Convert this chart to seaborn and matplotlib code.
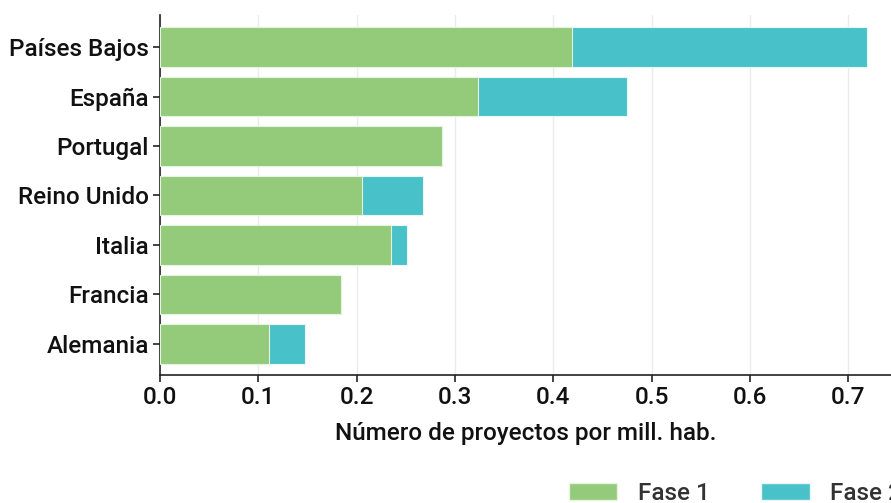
import matplotlib
matplotlib.use("Agg")
import matplotlib.pyplot as plt
import seaborn as sns
import pandas as pd
from matplotlib.patches import Patch

countries = ["Países Bajos", "España", "Portugal", "Reino Unido", "Italia", "Francia", "Alemania"]
fase1 = [0.419, 0.324, 0.2865, 0.205, 0.235, 0.184, 0.111]
fase2 = [0.300, 0.151, 0.0, 0.063, 0.016, 0.0, 0.036]
series_names = ["Fase 1", "Fase 2"]
xticks = [0.0, 0.1, 0.2, 0.3, 0.4, 0.5, 0.6, 0.7]

green = "#93CB7A"
teal = "#49C1C8"

sns.set_theme(style="white")
plt.rcParams["font.family"] = ["Roboto", "DejaVu Sans"]

df = pd.DataFrame({"pais": countries, "f1": fase1, "f2": fase2})
df["total"] = df["f1"] + df["f2"]

fig = plt.figure(figsize=(8.91, 5.03), dpi=100)
ax = fig.add_axes([160/891, 1-375/503, (891-160)/891, (375-15)/503])

sns.barplot(data=df, y="pais", x="total", color=teal, orient="h", ax=ax,
            width=0.8, edgecolor="#e8f6f7", linewidth=0.8, saturation=1, zorder=2)
sns.barplot(data=df, y="pais", x="f1", color=green, orient="h", ax=ax,
            width=0.8, edgecolor="#e6f3e0", linewidth=0.8, saturation=1, zorder=3)

ax.set_xlim(0, (891-160)/983)
ax.set_ylim(6.63, -0.65)
ax.set_xticks(xticks)
ax.set_xticklabels([f"{t:.1f}" for t in xticks])
ax.grid(axis="x", color="#ebebeb", linewidth=1, zorder=0)
ax.set_axisbelow(True)
for s in ["top", "right"]:
    ax.spines[s].set_visible(False)
for s in ["left", "bottom"]:
    ax.spines[s].set_color("#222222")
    ax.spines[s].set_linewidth(1.2)
ax.tick_params(axis="both", which="major", length=5, width=1.2, color="#222222",
               labelsize=17.5, labelcolor="#111111", left=True, bottom=True, pad=3)
for lab in ax.get_xticklabels() + ax.get_yticklabels():
    lab.set_fontweight("medium")
ax.set_ylabel("")
ax.set_xlabel("Número de proyectos por mill. hab.", fontsize=17.5, fontweight="medium",
              color="#111111", labelpad=9)

handles = [Patch(facecolor=green, edgecolor="#e6f3e0", label=series_names[0]),
           Patch(facecolor=teal, edgecolor="#e8f6f7", label=series_names[1])]
leg = fig.legend(handles=handles, loc="lower left", bbox_to_anchor=(547/891, -0.047),
                 ncol=2, frameon=False, fontsize=17.5, handlelength=2.0, handleheight=0.7,
                 columnspacing=2.1, handletextpad=0.85)
for t in leg.get_texts():
    t.set_color("#333333")
    t.set_fontweight("medium")

fig.savefig("out.png", dpi=100)
